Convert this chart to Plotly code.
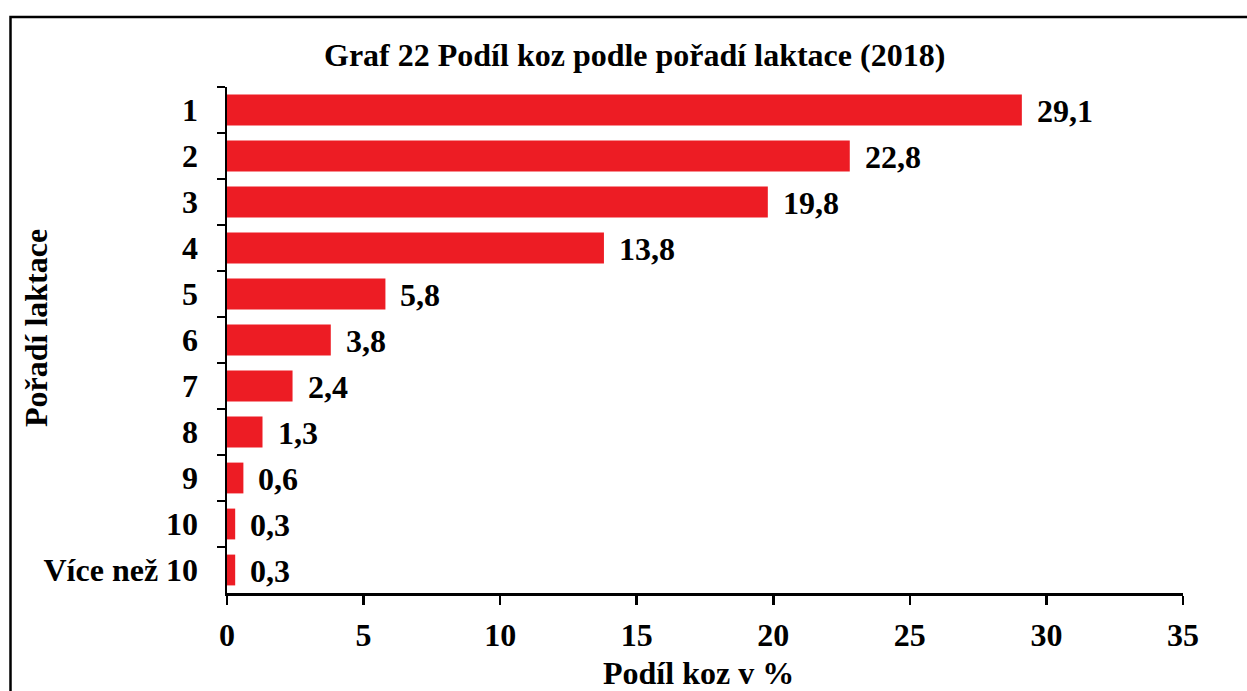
import plotly.graph_objects as go

categories = ["1", "2", "3", "4", "5", "6", "7", "8", "9", "10", "Více než 10"]
values = [29.1, 22.8, 19.8, 13.8, 5.8, 3.8, 2.4, 1.3, 0.6, 0.3, 0.3]
value_labels = ["29,1", "22,8", "19,8", "13,8", "5,8", "3,8", "2,4", "1,3", "0,6", "0,3", "0,3"]
x_ticks = [0, 5, 10, 15, 20, 25, 30, 35]

FONT = "Liberation Serif, Times New Roman, serif"
FS = 32
W, H = 1247, 691
ML, MT = 227, 87
PR, PB = 1183, 593
MR = W - PR
MB = H - PB
PW, PH = PR - ML, PB - MT

fig = go.Figure()
fig.add_trace(go.Bar(
    x=values, y=categories, orientation="h",
    marker=dict(color="#ED1C24", line=dict(width=0)),
    width=0.67, hoverinfo="skip",
))

for i, (v, t) in enumerate(zip(values, value_labels)):
    fig.add_annotation(x=v, y=i, text=t, showarrow=False, xanchor="left",
                       xshift=13, yshift=-1,
                       font=dict(family=FONT, size=FS, color="black", weight="bold"))

def px_x(px):
    return (px - ML) / PW

def px_y(py):
    return 1 - (py - MT) / PH

# outer border (left and top edges visible in the frame)
bx0, by0 = px_x(10.5), px_y(730)
bx1, by1 = px_x(1280), px_y(17)
fig.add_shape(type="path", xref="paper", yref="paper",
              path=f"M {bx0},{by0} L {bx0},{by1} L {bx1},{by1}",
              line=dict(color="black", width=2.5))

fig.add_annotation(xref="paper", yref="paper", x=px_x(634), y=px_y(55),
                   text="Graf 22 Podíl koz podle pořadí laktace (2018)", showarrow=False,
                   xanchor="center", yanchor="middle",
                   font=dict(family=FONT, size=FS, color="black", weight="bold"))
fig.add_annotation(xref="paper", yref="paper", x=px_x(698), y=px_y(673),
                   text="Podíl koz v %", showarrow=False,
                   xanchor="center", yanchor="middle",
                   font=dict(family=FONT, size=FS, color="black", weight="bold"))
fig.add_annotation(xref="paper", yref="paper", x=px_x(36), y=px_y(328),
                   text="Pořadí laktace", showarrow=False, textangle=-90,
                   xanchor="center", yanchor="middle",
                   font=dict(family=FONT, size=FS, color="black", weight="bold"))

fig.update_layout(
    width=W, height=H,
    margin=dict(l=ML, r=MR, t=MT, b=MB, autoexpand=False),
    paper_bgcolor="white", plot_bgcolor="white",
    showlegend=False,
    font=dict(family=FONT, size=FS, color="black", weight="bold"),
    xaxis=dict(range=[0, 35], tickvals=x_ticks, ticktext=[str(t) for t in x_ticks],
               showgrid=False, zeroline=False, showline=True, linecolor="black", linewidth=2.5,
               ticks="outside", ticklen=9, tickwidth=2.5, tickcolor="black",
               ticklabelstandoff=3, automargin=False,
               tickfont=dict(family=FONT, size=FS, color="black", weight="bold")),
    yaxis=dict(autorange="reversed", type="category", tickson="boundaries",
               showgrid=False, zeroline=False, showline=True, linecolor="black", linewidth=2.5,
               ticks="outside", ticklen=8, tickwidth=2.5, tickcolor="black",
               ticklabelstandoff=20, automargin=False,
               tickfont=dict(family=FONT, size=FS, color="black", weight="bold")),
)

fig.write_html(
    "out.html",
    config={"displayModeBar": False, "staticPlot": True},
    post_script="document.body.style.margin='0';document.body.style.overflow='hidden';",
)
